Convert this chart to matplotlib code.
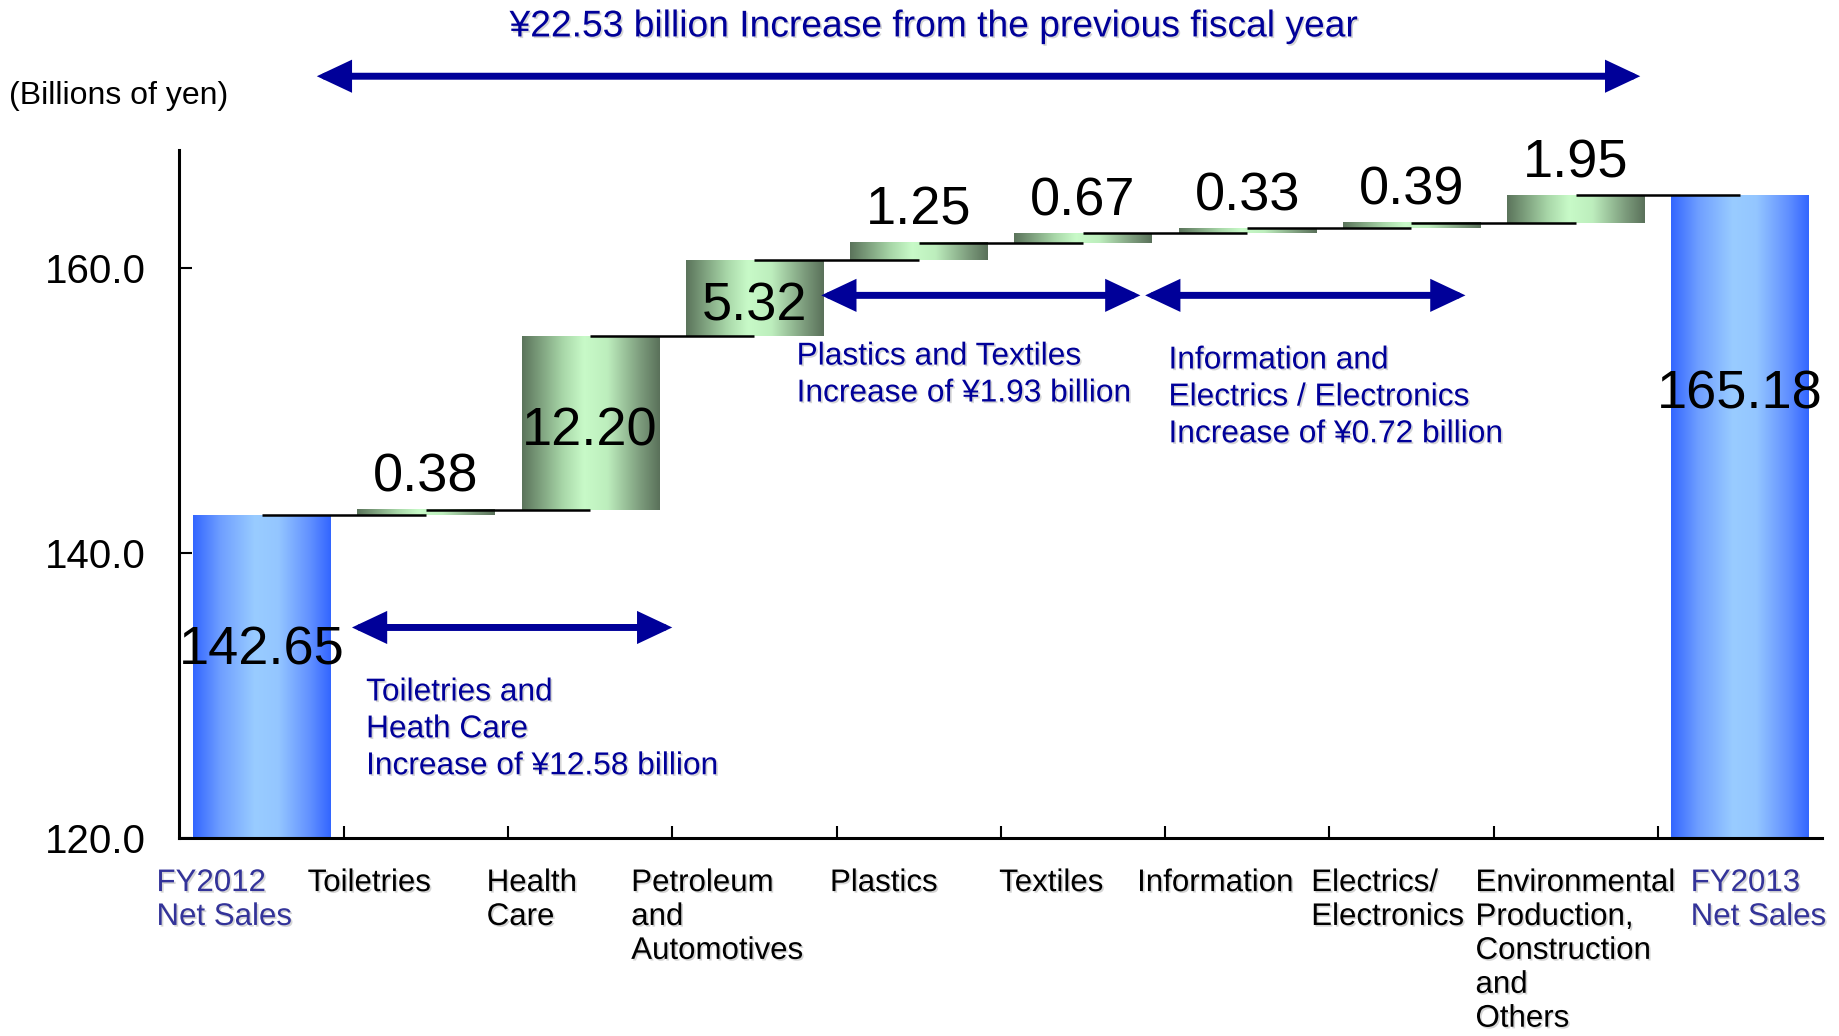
import numpy as np
import matplotlib.pyplot as plt
from matplotlib.colors import LinearSegmentedColormap
from matplotlib.patches import FancyArrowPatch, ArrowStyle
import matplotlib.patheffects as pe

plt.rcParams['font.family'] = ['Liberation Sans', 'DejaVu Sans']

# net sales bridge FY2012 -> FY2013, billions of yen
categories = ["FY2012\nNet Sales", "Toiletries", "Health\nCare",
              "Petroleum\nand\nAutomotives", "Plastics", "Textiles",
              "Information", "Electrics/\nElectronics",
              "Environmental\nProduction,\nConstruction\nand\nOthers",
              "FY2013\nNet Sales"]
start_total = 142.65
end_total = 165.18
increments = [0.38, 12.20, 5.32, 1.25, 0.67, 0.33, 0.39, 1.95]
yticks = [120.0, 140.0, 160.0]

title = "¥22.53 billion Increase from the previous fiscal year"
group_notes = ["Toiletries and\nHeath Care\nIncrease of ¥12.58 billion",
               "Plastics and Textiles\nIncrease of ¥1.93 billion",
               "Information and\nElectrics / Electronics\nIncrease of ¥0.72 billion"]

NAVY = '#000099'
TOTAL_TXT = '#333399'

green = LinearSegmentedColormap.from_list('grn', [
    (0.0, '#5b745b'), (0.3, '#a9d8a9'), (0.45, '#c8fac8'),
    (0.62, '#bdeebd'), (0.85, '#7f9f7f'), (1.0, '#5a715a')])
blue = LinearSegmentedColormap.from_list('blu', [
    (0.0, '#3366ff'), (0.2, '#6f9fff'), (0.45, '#99ccff'),
    (0.62, '#94c6ff'), (0.85, '#6190ff'), (1.0, '#3366ff')])
grad = np.linspace(0, 1, 256).reshape(1, -1)

shadow = [pe.withSimplePatchShadow(offset=(1.2, -1.2), shadow_rgbFace='#888888', alpha=0.35)]

fig = plt.figure(figsize=(18.39, 10.36), dpi=100)
ax = fig.add_axes([0.0976, 0.1916, 0.8932, 0.6634])
ymin, ymax = 120, 168.3
n = len(categories)
w = 0.835

levels = start_total + np.cumsum([0] + increments)


def gradient_bar(x, y0, y1, cmap):
    ax.imshow(grad, extent=[x - w / 2, x + w / 2, y0, y1], cmap=cmap,
              aspect='auto', interpolation='bicubic', zorder=2)


def inside_label(x, y, val):
    ax.annotate(f"{val:.2f}", (x, y), xytext=(0, -6), textcoords='offset points',
                ha='center', va='center', fontsize=39, zorder=5)


# totals
gradient_bar(0, 0, start_total, blue)
gradient_bar(n - 1, 0, end_total, blue)

# increments
for i, inc in enumerate(increments):
    gradient_bar(i + 1, levels[i], levels[i + 1], green)

# step connectors, centre to centre
for i in range(n - 1):
    ax.plot([i, i + 1], [levels[i], levels[i]], color='black', lw=1.8,
            solid_capstyle='butt', zorder=3)

# value labels
for i, inc in enumerate(increments):
    x = i + 1
    if inc >= 3:
        inside_label(x, (levels[i] + levels[i + 1]) / 2, inc)
    else:
        ax.annotate(f"{inc:.2f}", (x, levels[i + 1]), xytext=(0, 13),
                    textcoords='offset points', ha='center', va='baseline',
                    fontsize=39, zorder=5)
inside_label(0, 133.7, start_total)
inside_label(n - 1, 151.7, end_total)

# axes
ax.set_xlim(-0.5, n - 0.5)
ax.set_ylim(ymin, ymax)
ax.set_xticks(np.arange(n - 1) + 0.5)
ax.set_xticklabels([])
ax.set_yticks(yticks)
ax.set_yticklabels([f"{v:.1f}" for v in yticks], fontsize=29)
ax.tick_params(axis='both', direction='in', length=9, width=1.5, color='black')
ax.tick_params(axis='y', pad=24)
for side in ['top', 'right']:
    ax.spines[side].set_visible(False)
for side in ['left', 'bottom']:
    ax.spines[side].set_linewidth(2.2)
    ax.spines[side].set_zorder(6)

# category labels below the axis
label_x = [-0.64, 0.28, 1.37, 2.25, 3.46, 4.49, 5.33, 6.39, 7.39, 8.70]
for i, (lab, lx) in enumerate(zip(categories, label_x)):
    col = TOTAL_TXT if i in (0, n - 1) else 'black'
    ax.annotate(lab, (lx, 0), xycoords=('data', 'axes fraction'),
                xytext=(0, -22), textcoords='offset points', ha='left', va='top',
                fontsize=22.5, color=col, linespacing=1.17,
                annotation_clip=False, path_effects=shadow)


def span_arrow(x0, x1, y):
    arr = FancyArrowPatch((x0, y), (x1, y),
                          arrowstyle=ArrowStyle('<|-|>', head_length=17, head_width=8),
                          mutation_scale=1, lw=5, color=NAVY, shrinkA=0, shrinkB=0,
                          clip_on=False, zorder=6, joinstyle='miter')
    ax.add_patch(arr)


span_arrow(0.336, 8.393, 173.5)
span_arrow(0.55, 2.50, 134.76)
span_arrow(3.407, 5.35, 158.1)
span_arrow(5.379, 7.329, 158.1)

note_pos = [(0.636, 127.6), (3.257, 152.5), (5.521, 150.93)]
for txt, (nx, ny) in zip(group_notes, note_pos):
    ax.text(nx, ny, txt, ha='left', va='center', fontsize=22.8, color=NAVY,
            linespacing=1.3, zorder=6, path_effects=shadow)

fig.text(0.508, 0.974, title, ha='center', va='center', fontsize=26.8,
         color=NAVY, path_effects=shadow)
fig.text(0.005, 0.907, "(Billions of yen)", ha='left', va='center', fontsize=23)

fig.savefig('out.png', dpi=100)
